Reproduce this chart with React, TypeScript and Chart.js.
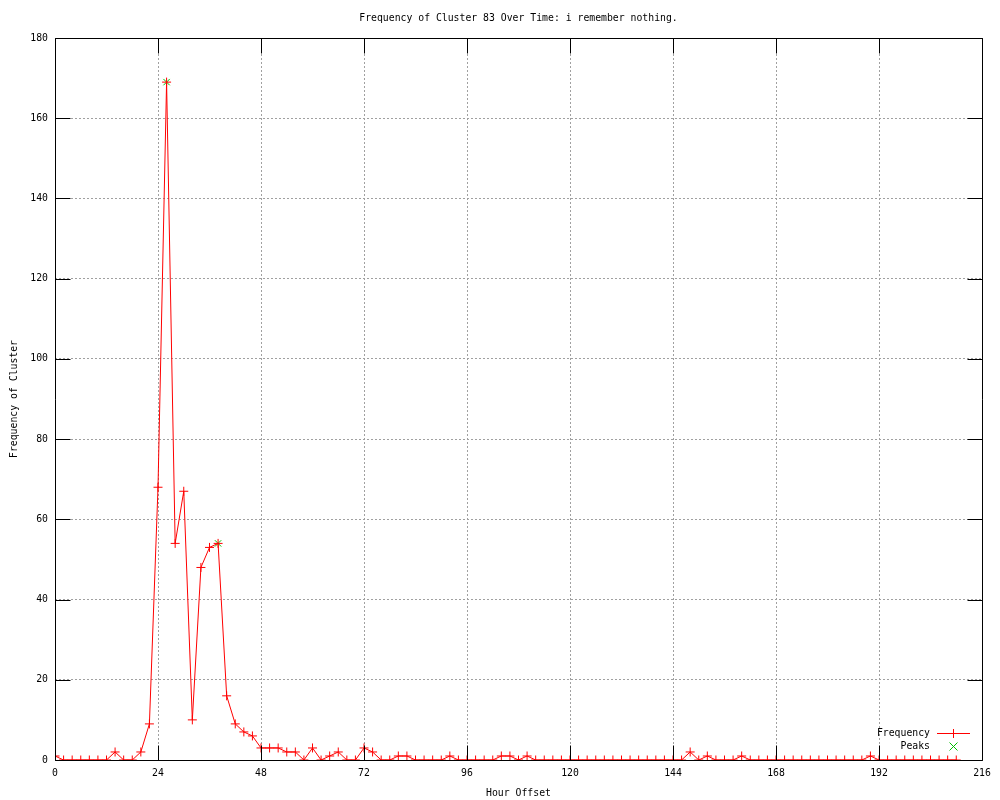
import React, { useEffect, useRef } from "react";
import { Chart, registerables } from "chart.js";

Chart.register(...registerables);

const chartTitle = "Frequency of Cluster 83 Over Time: i remember nothing.";
const xAxisTitle = "Hour Offset";
const yAxisTitle = "Frequency of Cluster";

const hours = [
  0, 2, 4, 6, 8, 10, 12, 14, 16, 18, 20, 22, 24, 26, 28, 30, 32, 34, 36, 38,
  40, 42, 44, 46, 48, 50, 52, 54, 56, 58, 60, 62, 64, 66, 68, 70, 72, 74, 76, 78,
  80, 82, 84, 86, 88, 90, 92, 94, 96, 98, 100, 102, 104, 106, 108, 110, 112, 114, 116, 118,
  120, 122, 124, 126, 128, 130, 132, 134, 136, 138, 140, 142, 144, 146, 148, 150, 152, 154, 156, 158,
  160, 162, 164, 166, 168, 170, 172, 174, 176, 178, 180, 182, 184, 186, 188, 190, 192, 194, 196, 198,
  200, 202, 204, 206, 208, 210,
];

const frequency = [
  1, 0, 0, 0, 0, 0, 0, 2, 0, 0, 2, 9, 68, 169, 54, 67, 10, 48, 53, 54,
  16, 9, 7, 6, 3, 3, 3, 2, 2, 0, 3, 0, 1, 2, 0, 0, 3, 2, 0, 0,
  1, 1, 0, 0, 0, 0, 1, 0, 0, 0, 0, 0, 1, 1, 0, 1, 0, 0, 0, 0,
  0, 0, 0, 0, 0, 0, 0, 0, 0, 0, 0, 0, 0, 0, 2, 0, 1, 0, 0, 0,
  1, 0, 0, 0, 0, 0, 0, 0, 0, 0, 0, 0, 0, 0, 0, 1, 0, 0, 0, 0,
  0, 0, 0, 0, 0, 0,
];

const peakHours = [26, 38];
const peakValues = [169, 54];

const xTicks = [0, 24, 48, 72, 96, 120, 144, 168, 192, 216];
const yTicks = [0, 20, 40, 60, 80, 100, 120, 140, 160, 180];

const FONT = "'DejaVu Sans Mono', monospace";
const FONT_SIZE = 9.8;
const RED = "#ff0000";
const GREEN = "#00c000";

const decorPlugin = {
  id: "gnuplotDecor",
  afterDraw(chart: any) {
    const ctx: CanvasRenderingContext2D = chart.ctx;
    const area = chart.chartArea;
    const xs = chart.scales.x;
    const ys = chart.scales.y;
    const TL = 15;
    ctx.save();
    ctx.setLineDash([]);
    ctx.lineWidth = 1;
    ctx.strokeStyle = "#000000";
    const L = Math.round(area.left) + 0.5;
    const R = Math.round(area.right) + 0.5;
    const T = Math.round(area.top) + 0.5;
    const B = Math.round(area.bottom) + 0.5;
    ctx.beginPath();
    ctx.rect(L, T, R - L, B - T);
    ctx.stroke();
    ctx.beginPath();
    xTicks.forEach((v) => {
      const px = Math.round(xs.getPixelForValue(v)) + 0.5;
      ctx.moveTo(px, B);
      ctx.lineTo(px, B - TL);
      ctx.moveTo(px, T);
      ctx.lineTo(px, T + TL);
    });
    yTicks.forEach((v) => {
      const py = Math.round(ys.getPixelForValue(v)) + 0.5;
      ctx.moveTo(L, py);
      ctx.lineTo(L + TL, py);
      ctx.moveTo(R, py);
      ctx.lineTo(R - TL, py);
    });
    ctx.stroke();
    ctx.restore();

    // texts
    ctx.save();
    ctx.fillStyle = "#000000";
    ctx.font = `${FONT_SIZE}px ${FONT}`;
    ctx.textBaseline = "middle";
    ctx.textAlign = "center";
    ctx.fillText(chartTitle, (area.left + area.right) / 2, 18);
    ctx.fillText(xAxisTitle, (area.left + area.right) / 2, 793);
    ctx.translate(14, (area.top + area.bottom) / 2);
    ctx.rotate(-Math.PI / 2);
    ctx.fillText(yAxisTitle, 0, 0);
    ctx.restore();

    // legend
    ctx.save();
    ctx.fillStyle = "#000000";
    ctx.font = `${FONT_SIZE}px ${FONT}`;
    ctx.textBaseline = "middle";
    ctx.textAlign = "right";
    ctx.fillText("Frequency", 930, 733);
    ctx.fillText("Peaks", 930, 746);
    ctx.fillStyle = RED;
    ctx.fillRect(937, 733, 33, 1);
    ctx.fillRect(953, 729, 1, 9);
    ctx.restore();

    ctx.save();
    ctx.setLineDash([]);
    ctx.lineWidth = 1;
    ctx.strokeStyle = GREEN;
    ctx.beginPath();
    ctx.moveTo(949.5, 742.5);
    ctx.lineTo(957.5, 750.5);
    ctx.moveTo(957.5, 742.5);
    ctx.lineTo(949.5, 750.5);
    ctx.stroke();
    ctx.restore();
  },
};

export default function App() {
  const canvasRef = useRef<HTMLCanvasElement | null>(null);

  useEffect(() => {
    const canvas = canvasRef.current;
    if (!canvas) return;
    const chart = new Chart(canvas, {
      type: "line",
      data: {
        datasets: [
          {
            label: "Frequency",
            data: hours.map((h, i) => ({ x: h, y: frequency[i] })),
            borderColor: RED,
            backgroundColor: RED,
            borderWidth: 1,
            pointStyle: "cross",
            pointRadius: 4.5,
            pointBorderWidth: 1,
            pointBorderColor: RED,
            tension: 0,
            fill: false,
          },
          {
            label: "Peaks",
            data: peakHours.map((h, i) => ({ x: h, y: peakValues[i] })),
            showLine: false,
            borderColor: GREEN,
            backgroundColor: GREEN,
            pointStyle: "crossRot",
            pointRadius: 4.5,
            pointBorderWidth: 1,
            pointBorderColor: GREEN,
          },
        ],
      },
      options: {
        responsive: false,
        animation: false,
        events: [],
        layout: { padding: { left: 0, right: 18, top: 38, bottom: 0 } },
        plugins: {
          legend: { display: false },
          title: { display: false },
          tooltip: { enabled: false },
        },
        scales: {
          x: {
            type: "linear",
            min: 0,
            max: 216,
            afterBuildTicks: (scale: any) => {
              scale.ticks = xTicks.map((v) => ({ value: v }));
            },
            afterFit: (scale: any) => {
              scale.height = 40;
            },
            ticks: {
              color: "#000000",
              font: { family: FONT, size: FONT_SIZE },
              padding: 8,
              maxRotation: 0,
              autoSkip: false,
            },
            grid: {
              color: "#a0a0a0",
              lineWidth: 1,
              drawTicks: false,
            },
            border: { display: false, dash: [2, 2] },
          },
          y: {
            type: "linear",
            min: 0,
            max: 180,
            afterBuildTicks: (scale: any) => {
              scale.ticks = yTicks.map((v) => ({ value: v }));
            },
            afterFit: (scale: any) => {
              scale.width = 55;
            },
            ticks: {
              color: "#000000",
              font: { family: FONT, size: FONT_SIZE },
              padding: 7,
              autoSkip: false,
            },
            grid: {
              color: "#a0a0a0",
              lineWidth: 1,
              drawTicks: false,
            },
            border: { display: false, dash: [2, 2] },
          },
        },
      },
      plugins: [decorPlugin],
    });
    return () => chart.destroy();
  }, []);

  return (
    <div style={{ position: "absolute", left: 0, top: 0, width: 1000, height: 800, background: "#ffffff" }}>
      <canvas ref={canvasRef} width={1000} height={800} />
    </div>
  );
}
